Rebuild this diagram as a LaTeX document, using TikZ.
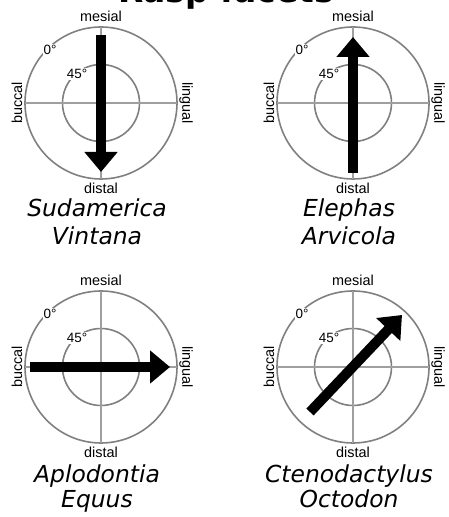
\documentclass[tikz,border=0pt]{standalone}
\usepackage{fontspec}
\usetikzlibrary{arrows.meta}
\newfontfamily\labelfont{Liberation Sans}
\newfontfamily\speciesfont{DejaVu Sans}
\newcommand\OuterR{76}
\newcommand\InnerR{38.5}
\tikzset{
  ring/.style={
    draw = gray,
    line width = 1.6bp
  },
  crosshair/.style={
    draw = gray!75,
    line width = 1.1bp
  },
  side/.style={
    font = \labelfont\fontsize{14.5}{14.5}\selectfont,
    inner sep = 0pt
  },
  deg/.style={
    font = \labelfont\fontsize{13.5}{13.5}\selectfont,
    fill = white,
    inner sep = 1pt
  },
  species/.style={
    font = \speciesfont\itshape\fontsize{23.5}{23.5}\selectfont,
    anchor = base,
    inner sep = 0pt
  },
  heading/.style={
    font = \speciesfont\bfseries\fontsize{33}{33}\selectfont,
    anchor = base,
    inner sep = 0pt
  },
  stroke/.style={
    line width = 10bp,
    -{Triangle[length=20bp,width=32bp]}
  }
}
% one dial: name, centre x, centre y
\newcommand\Dial[3]{
    \coordinate (#1) at (#2,#3);
    \draw[ring] (#1) circle (\OuterR);
    \draw[ring] (#1) circle (\InnerR);
    \draw[crosshair] (#2-\OuterR,#3) -- (#2+\OuterR,#3);
    \draw[crosshair] (#2,#3-\OuterR) -- (#2,#3+\OuterR);
    \node[side] (#1-mesial) at (#2,#3+87) {mesial};
    \node[side] (#1-distal) at (#2,#3-85.5) {distal};
    \node[side, rotate=90] (#1-buccal) at (#2-84,#3) {buccal};
    \node[side, rotate=-90] (#1-lingual) at (#2+85,#3) {lingual};
    \node[deg] (#1-zero) at (#2-51,#3+53) {0°};
    \node[deg] (#1-half) at (#2-24,#3+29) {45°};
}

\begin{document}
\begin{tikzpicture}[x=1bp, y=1bp]
    \useasboundingbox (0,0) rectangle (449,517);
    \node[heading] (title) at (226,514) {Rasp facets};

    \Dial{d1}{101}{414}
    \Dial{d2}{353}{414}
    \Dial{d3}{101}{150}
    \Dial{d4}{353}{150}

    \coordinate (d1-tail) at (101,482);
    \coordinate (d1-tip) at (101,345);
    \draw[stroke] (d1-tail) -- (d1-tip);

    \coordinate (d2-tail) at (353,344);
    \coordinate (d2-tip) at (353,480);
    \draw[stroke] (d2-tail) -- (d2-tip);

    \coordinate (d3-tail) at (30,150);
    \coordinate (d3-tip) at (170,150);
    \draw[stroke] (d3-tail) -- (d3-tip);

    \coordinate (d4-tail) at (310,105);
    \coordinate (d4-tip) at (402,202);
    \draw[stroke] (d4-tail) -- (d4-tip);

    \node[species] (s1a) at (97,300) {Sudamerica};
    \node[species] (s1b) at (97,272) {Vintana};
    \node[species] (s2a) at (349,300) {Elephas};
    \node[species] (s2b) at (349,272) {Arvicola};
    \node[species] (s3a) at (97,34) {Aplodontia};
    \node[species] (s3b) at (97,9) {Equus};
    \node[species] (s4a) at (349,34) {Ctenodactylus};
    \node[species] (s4b) at (349,9) {Octodon};
\end{tikzpicture}
\end{document}
